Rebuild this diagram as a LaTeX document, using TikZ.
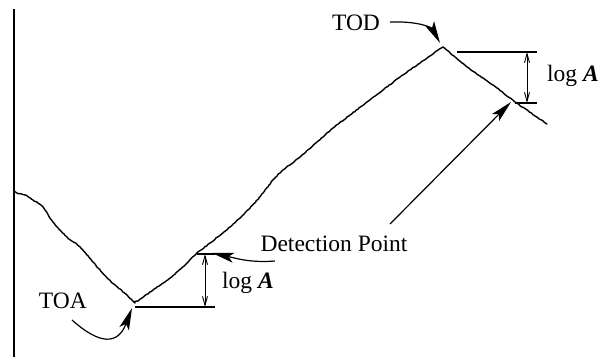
\documentclass[tikz,border=0pt]{standalone}
\usepackage{fontspec}
\setmainfont{Liberation Serif}
\usetikzlibrary{arrows.meta,decorations.pathmorphing}
\begin{document}
\begin{tikzpicture}[x=1pt,y=-1pt,
  lbl/.style={font=\fontsize{23.5}{26}\selectfont, inner sep=0pt},
  curve/.style={line width=1.4pt, line join=round, line cap=round},
  tickline/.style={line width=1.2pt},
  dim/.style={line width=0.9pt, {Straight Barb[length=9pt,width=5pt]}-{Straight Barb[length=9pt,width=5pt]}},
  pointer/.style={line width=1.2pt, -{Stealth[length=22pt,width=10pt,inset=5pt]}}]
\useasboundingbox (0,0) rectangle (604,357);
% axis
\coordinate (axtop) at (14,9);
\coordinate (axbot) at (14,357);
\draw[line width=2pt] (axtop) -- (axbot);
% key points
\coordinate (toa) at (135,306);
\coordinate (det) at (197,254);
\coordinate (tod) at (443,47);
% signal curve
\draw[curve, decorate, decoration={random steps, segment length=2pt, amplitude=0.35pt}]
  plot[smooth, tension=0.5] coordinates {(14,193) (25,195) (33,200) (43,207) (53,222) (67,237) (80,247) (93,262) (107,278) (120,289) (135,303)}
  -- plot[smooth, tension=0.4] coordinates {(135,303) (153,290) (170,278) (187,263) (197,253) (210,243) (230,227) (250,208) (263,193) (273,180) (283,170) (300,157) (317,142) (333,128) (350,115) (367,102) (383,90) (400,77) (427,58) (438,50) (443,47)}
  -- (467,67) -- (497,88) -- (515,102) -- (547,124);
% upper log A
\coordinate (ut1) at (457,52);
\coordinate (ut2) at (537,52);
\coordinate (lt1) at (515,103);
\coordinate (lt2) at (537,103);
\coordinate (ua1) at (527,52);
\coordinate (ua2) at (527,103);
\draw[tickline] (ut1) -- (ut2);
\draw[tickline] (lt1) -- (lt2);
\draw[dim] (ua1) -- (ua2);
\node[lbl, anchor=west] (logA1) at (547,76) {log \textbf{\textit{A}}};
% lower log A
\coordinate (dt1) at (197,254);
\coordinate (dt2) at (215,254);
\coordinate (bt1) at (135,307);
\coordinate (bt2) at (215,307);
\coordinate (la1) at (205,254);
\coordinate (la2) at (205,307);
\draw[tickline] (dt1) -- (dt2);
\draw[tickline] (bt1) -- (bt2);
\draw[dim] (la1) -- (la2);
\node[lbl, anchor=west] (logA2) at (222,282.5) {log \textbf{\textit{A}}};
% labels
\node[lbl] (TOD) at (356,23.3) {TOD};
\node[lbl] (TOA) at (62.8,301) {TOA};
\node[lbl] (DP) at (334,244) {Detection Point};
% pointers
\coordinate (todstart) at (390,22);
\coordinate (todtip) at (440,43);
\draw[pointer] (todstart) .. controls (420,21) and (432,28) .. (todtip);
\coordinate (toastart) at (72,320);
\coordinate (toatip) at (132,308);
\draw[pointer] (toastart) .. controls (100,345) and (118,345) .. (toatip);
\coordinate (detstart) at (275,261);
\coordinate (dettip) at (212,253);
\draw[pointer] (detstart) .. controls (250,263) and (235,258) .. (dettip);
\coordinate (det2start) at (390,224);
\coordinate (det2tip) at (511,102);
\draw[pointer] (det2start) -- (det2tip);
\end{tikzpicture}
\end{document}
